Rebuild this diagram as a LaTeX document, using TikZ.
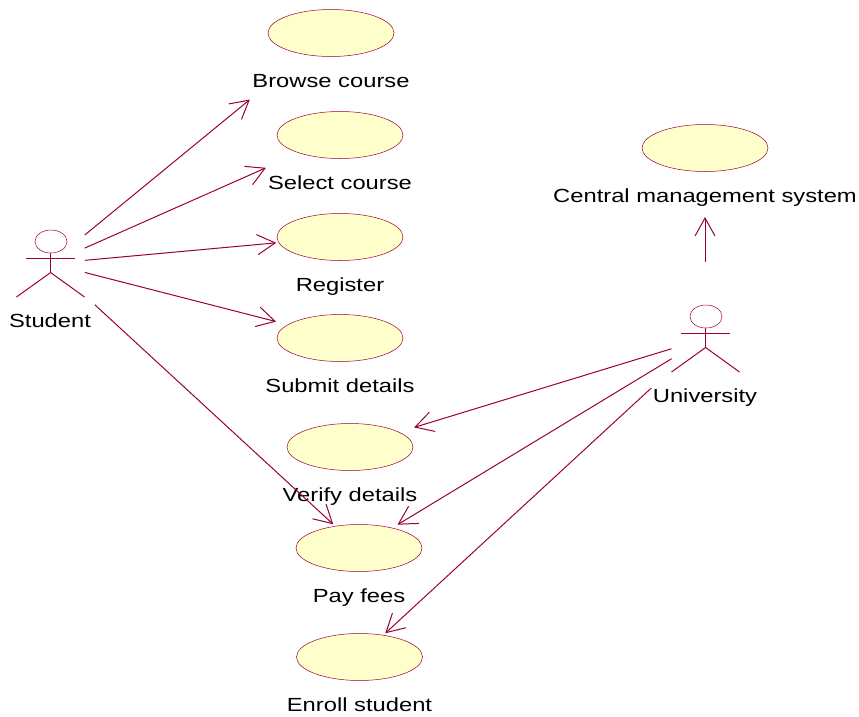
\documentclass[tikz,border=0pt]{standalone}
\usepackage{fontspec}
\setmainfont[FakeStretch=1.25]{Liberation Sans}
\usetikzlibrary{arrows.meta}
\usetikzlibrary{shapes.geometric}
\definecolor{rosered}{HTML}{990033}
\definecolor{roseyellow}{HTML}{FFFFCC}
\tikzstyle{usecase} = [draw=rosered, fill=roseyellow, ellipse, line width=0.5pt,
  minimum width=126pt, minimum height=47pt, inner sep=0pt]
\tikzstyle{caption} = [text=black, inner sep=0pt, text height=14pt, text depth=4pt,
  font=\fontsize{19}{22}\selectfont]
\tikzstyle{actor} = [inner sep=0pt, minimum size=0pt]
\tikzstyle{stick} = [draw=rosered, line width=1pt]
\tikzstyle{line} = [draw=rosered, line width=1pt, -{Straight Barb[length=18pt,width=20pt]}]
\newcommand{\usecase}[4]{(#2,#3) node (#1) [usecase] {}
  +(0,49.3) node (#1label) [caption] {#4}}
\newcommand{\actorfig}[4]{
  \node (#1) [actor] at (#2,#3) {};
  \path (#1.center)+(0,58.5) node (#1label) [caption] {#4};
  \begin{scope}[shift={(#2,#3)}]
    \draw [rosered, line width=0.5pt] (1,-22) ellipse [x radius=16, y radius=11.5];
    \path [stick] (-24,-5.5) -- (25,-5.5);
    \path [stick] (0.6,-10.5) -- (0.6,9);
    \path [stick] (-33.5,33.5) -- (0.6,9) -- (34.5,33.5);
  \end{scope}}
\begin{document}
\begin{tikzpicture}[x=1pt,y=-1pt]
    \useasboundingbox (0,0) rectangle (859,716);

    % Draw diagram elements
    \path \usecase{browse}{331}{33}{Browse course};
    \path \usecase{select}{340}{135}{Select course};
    \path \usecase{register}{340}{237}{Register};
    \path \usecase{submit}{340}{338}{Submit details};
    \path \usecase{verify}{350}{447}{Verify details};
    \path \usecase{pay}{359}{548}{Pay fees};
    \path \usecase{enroll}{359.5}{657}{Enroll student};
    \path \usecase{central}{705}{148}{Central management system};
    \actorfig{student}{50}{263.5}{Student}
    \actorfig{university}{705}{338.5}{University}
    % Draw arrows between elements
    \path [line, shorten <=45pt, shorten >=105pt] (student.center) -- (browse.center);
    \path [line, shorten <=38pt, shorten >=81pt] (student.center) -- (select.center);
    \path [line, shorten <=35pt, shorten >=64pt] (student.center) -- (register.center);
    \path [line, shorten <=36pt, shorten >=66pt] (student.center) -- (submit.center);
    \path [line, shorten <=61pt, shorten >=35pt] (student.center) -- (pay.center);
    \path [line, shorten <=77pt, shorten >=69pt] (university.center) -- (central.center);
    \path [line, shorten <=35pt, shorten >=67pt] (university.center) -- (verify.center);
    \path [line, shorten <=39pt, shorten >=45pt] (university.center) -- (pay.center);
    \path [line, shorten <=73pt, shorten >=35pt] (university.center) -- (enroll.center);
\end{tikzpicture}
\end{document}
